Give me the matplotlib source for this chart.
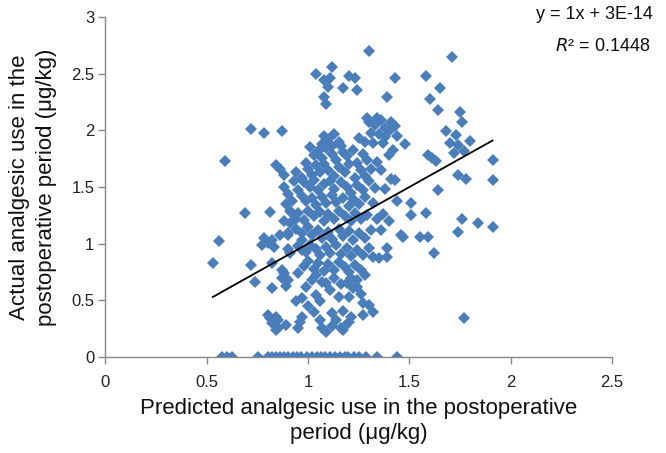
import matplotlib
matplotlib.use("Agg")
import matplotlib.pyplot as plt
import numpy as np

plt.rcParams['font.family'] = ['Liberation Sans', 'DejaVu Sans']

# Points on y = 0 (predicted values)
zero_x = [0.574, 0.599, 0.623, 0.751, 0.800, 0.820, 0.840, 0.860, 0.879, 0.899,
          0.924, 0.943, 0.963, 0.993, 1.017, 1.042, 1.062, 1.081, 1.106, 1.135,
          1.155, 1.180, 1.199, 1.224, 1.249, 1.288, 1.342, 1.441]

# Other points: predicted (x) and actual (y)
x_top = [1.30, 1.12, 1.04, 1.08, 1.11, 1.10, 1.20, 1.23, 1.17, 1.24, 1.08, 1.09, 1.39,
         1.71, 1.43, 1.58, 1.65, 1.60, 1.64, 1.75, 1.76]
y_top = [2.70, 2.56, 2.50, 2.44, 2.46, 2.38, 2.48, 2.46, 2.37, 2.36, 2.29, 2.23, 2.29,
         2.65, 2.46, 2.48, 2.37, 2.28, 2.18, 2.16, 2.07]

x_left = [0.72, 0.78, 0.87, 0.59, 0.69, 0.81, 0.84, 0.86, 0.88, 0.94, 0.99,
          0.56, 0.53, 0.72, 0.74, 0.78, 0.77, 0.80, 0.82, 0.86, 0.90, 0.90, 0.91, 0.82,
          0.87, 0.88, 0.87, 0.90, 0.89, 0.82, 0.95, 0.94, 0.97, 0.80, 0.81, 0.84, 0.85,
          0.82, 0.85, 0.84, 0.89, 0.95, 0.96, 0.97, 0.83,
          0.91, 0.92, 0.94, 0.90, 0.97, 0.97, 1.00,
          0.88, 0.90, 0.92, 0.89, 0.95, 0.93, 0.97, 0.91, 0.88]
y_left = [2.01, 1.98, 1.99, 1.73, 1.27, 1.28, 1.69, 1.66, 1.61, 1.63, 1.71,
          1.02, 0.83, 0.81, 0.66, 1.05, 0.99, 1.01, 1.03, 1.08, 1.08, 0.95, 0.92, 0.83,
          0.77, 0.74, 0.70, 0.68, 0.63, 0.61, 0.74, 0.49, 0.52, 0.37, 0.34, 0.35, 0.33,
          0.30, 0.26, 0.24, 0.28, 0.26, 0.31, 0.35, 0.97,
          1.29, 1.27, 1.22, 1.09, 1.03, 0.94, 0.96,
          1.50, 1.44, 1.38, 1.35, 1.47, 1.55, 1.58, 1.18, 1.20]

x_upper = [1.08, 1.10, 1.13, 1.15, 1.12, 1.07, 1.16, 1.25, 1.29, 1.34, 1.32, 1.38,
           1.30, 1.33, 1.36, 1.38, 1.35, 1.40, 1.42, 1.44, 1.31, 1.28, 1.37,
           1.41, 1.43, 1.48, 1.42, 1.40, 1.41, 1.43, 1.44, 1.51, 1.51, 1.58, 1.37]
y_upper = [1.95, 1.92, 1.97, 1.90, 1.86, 1.88, 1.86, 1.93, 2.11, 2.11, 1.89, 1.94,
           2.07, 2.05, 2.09, 2.02, 1.97, 1.99, 2.04, 1.95, 1.98, 1.90, 1.89,
           2.07, 2.04, 1.88, 1.83, 1.78, 1.57, 1.56, 1.38, 1.36, 1.25, 1.27, 1.26]

x_right = [1.68, 1.73, 1.70, 1.74, 1.72, 1.80, 1.77, 1.59, 1.61, 1.63, 1.91, 1.74,
           1.78, 1.91, 1.64, 1.76, 1.84, 1.91, 1.74, 1.47, 1.55, 1.59, 1.62, 1.77,
           1.46, 1.36, 1.39, 1.39, 1.32, 1.35, 1.40, 1.36, 1.38, 1.34, 1.30, 1.32, 1.27]
y_right = [1.99, 1.96, 1.89, 1.87, 1.80, 1.91, 1.82, 1.78, 1.76, 1.73, 1.74, 1.61,
           1.57, 1.56, 1.47, 1.22, 1.18, 1.15, 1.10, 1.06, 1.06, 1.06, 0.92, 0.34,
           1.08, 1.12, 0.96, 0.88, 0.88, 0.87, 1.20, 1.65, 1.48, 1.72, 0.46, 0.40, 0.37]

x_low = [1.17, 1.21, 1.18, 1.20, 1.12, 1.14, 1.12, 1.16, 1.17, 1.06, 1.07, 1.09,
         1.24, 1.26, 1.27, 1.19, 1.22, 1.20, 1.09, 1.11, 1.15, 1.04, 1.06]
y_low = [0.41, 0.35, 0.27, 0.31, 0.39, 0.33, 0.27, 0.26, 0.24, 0.33, 0.26, 0.22,
         0.62, 0.56, 0.48, 0.65, 0.61, 0.53, 0.65, 0.59, 0.53, 0.55, 0.49]

x_core = [1.01, 1.03, 1.05, 1.07, 1.09, 1.12, 1.14, 1.17, 1.19, 1.22, 1.24, 1.27, 1.29,
          1.00, 1.02, 1.04, 1.06, 1.08, 1.10, 1.13, 1.15, 1.18, 1.20, 1.23, 1.26, 1.28, 1.31,
          0.98, 1.01, 1.03, 1.05, 1.08, 1.11, 1.13, 1.16, 1.19, 1.21, 1.24, 1.27, 1.30, 1.33,
          0.97, 0.99, 1.02, 1.04, 1.07, 1.09, 1.12, 1.14, 1.17, 1.20, 1.22, 1.25, 1.28, 1.32,
          0.95, 0.98, 1.00, 1.03, 1.06, 1.08, 1.10, 1.13, 1.15, 1.18, 1.21, 1.23, 1.26, 1.29, 1.34,
          0.94, 0.97, 1.00, 1.02, 1.05, 1.07, 1.10, 1.12, 1.15, 1.17, 1.20, 1.22, 1.25, 1.28, 1.31,
          0.95, 0.99, 1.01, 1.04, 1.06, 1.09, 1.11, 1.14, 1.16, 1.19, 1.21, 1.24, 1.27, 1.30,
          0.98, 1.00, 1.03, 1.05, 1.08, 1.10, 1.13, 1.15, 1.18, 1.20, 1.23, 1.26,
          1.02, 1.04, 1.07, 1.13, 1.16, 1.21, 1.24, 1.28, 0.99, 1.00, 1.03]
y_core = [1.85, 1.78, 1.82, 1.76, 1.84, 1.79, 1.74, 1.81, 1.77, 1.83, 1.71, 1.79, 1.74,
          1.66, 1.61, 1.69, 1.63, 1.70, 1.65, 1.60, 1.68, 1.63, 1.70, 1.58, 1.65, 1.60, 1.66,
          1.54, 1.50, 1.56, 1.47, 1.53, 1.55, 1.48, 1.54, 1.50, 1.45, 1.52, 1.47, 1.55, 1.49,
          1.42, 1.38, 1.40, 1.34, 1.41, 1.36, 1.43, 1.37, 1.40, 1.33, 1.39, 1.35, 1.41, 1.36,
          1.27, 1.21, 1.29, 1.24, 1.28, 1.20, 1.26, 1.22, 1.29, 1.24, 1.20, 1.27, 1.22, 1.25, 1.22,
          1.13, 1.09, 1.15, 1.08, 1.12, 1.05, 1.10, 1.04, 1.13, 1.07, 1.11, 1.03, 1.09, 1.05, 1.12,
          0.98, 0.93, 0.99, 0.95, 0.90, 0.97, 0.92, 0.99, 0.91, 0.96, 0.89, 0.94, 0.90, 0.96,
          0.80, 0.85, 0.78, 0.83, 0.76, 0.82, 0.77, 0.84, 0.79, 0.75, 0.81, 0.77,
          0.68, 0.72, 0.66, 0.70, 0.64, 0.70, 0.68, 0.72, 0.62, 0.45, 0.40]

# Trendline as reported on the chart
trend_slope = 1.0
trend_intercept = 3e-14
eq_text = "y = 1x + 3E-14"
r2_text = r"$R$² = 0.1448"

x_ticks = [0, 0.5, 1, 1.5, 2, 2.5]
x_ticklabels = ["0", "0.5", "1", "1.5", "2", "2.5"]
y_ticks = [0, 0.5, 1, 1.5, 2, 2.5, 3]
y_ticklabels = ["0", "0.5", "1", "1.5", "2", "2.5", "3"]

x_all = np.array(zero_x + x_top + x_left + x_upper + x_right + x_low + x_core)
y_all = np.array([0.0] * len(zero_x) + y_top + y_left + y_upper + y_right + y_low + y_core)

fig = plt.figure(figsize=(6.66, 4.53), dpi=100)
ax = fig.add_axes([0.1584, 0.2119, 0.919 - 0.1584, 0.9625 - 0.2119])

ax.plot(x_all, y_all, ls='none', marker='D', ms=6.6, color='#4A7EBB',
        markeredgewidth=0, zorder=2)

xl = np.array([x_all.min(), x_all.max()])
ax.plot(xl, trend_slope * xl + trend_intercept, color='black', lw=1.3, zorder=3)

ax.set_xlim(0, 2.5)
ax.set_ylim(0, 3)
ax.set_xticks(x_ticks)
ax.set_xticklabels(x_ticklabels)
ax.set_yticks(y_ticks)
ax.set_yticklabels(y_ticklabels)

for s in ['top', 'right']:
    ax.spines[s].set_visible(False)
for s in ['left', 'bottom']:
    ax.spines[s].set_color('#888888')
    ax.spines[s].set_linewidth(1.0)
ax.tick_params(axis='both', direction='out', length=5, width=1.0, color='#888888',
               labelsize=12, labelcolor='#222222')
ax.tick_params(axis='x', pad=8)
ax.tick_params(axis='y', pad=3)

ax.set_xlabel("Predicted analgesic use in the postoperative\nperiod (μg/kg)",
              fontsize=16, color='#111111', labelpad=6, linespacing=1.25)
ax.set_ylabel("Actual analgesic use in the\npostoperative period (μg/kg)",
              fontsize=16, color='#111111', labelpad=10, linespacing=1.4)

fig.text(0.981, 0.968, eq_text, ha='right', va='center', fontsize=13, color='#111111')
fig.text(0.976, 0.897, r2_text, ha='right', va='center', fontsize=13, color='#111111')

fig.savefig("out.png", dpi=100)
